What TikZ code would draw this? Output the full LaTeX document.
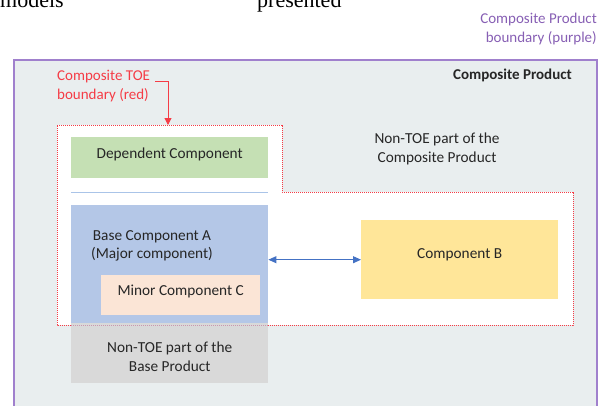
\documentclass[tikz,border=0pt]{standalone}
\usepackage{fontspec}
\setmainfont{Carlito}
\newfontfamily\serifx{Liberation Serif}
\usetikzlibrary{arrows.meta}
\definecolor{bgc}{RGB}{233,238,239}
\definecolor{purp}{RGB}{160,128,205}
\definecolor{purptxt}{RGB}{135,95,180}
\definecolor{redb}{RGB}{245,60,70}
\definecolor{greenf}{RGB}{197,224,180}
\definecolor{bluef}{RGB}{180,199,231}
\definecolor{peachf}{RGB}{251,229,214}
\definecolor{grayf}{RGB}{217,217,217}
\definecolor{yellowf}{RGB}{255,230,153}
\definecolor{arrowb}{RGB}{68,114,196}
\definecolor{linec}{RGB}{170,196,232}
\definecolor{txt}{RGB}{38,38,38}
\tikzset{
  boxn/.style={draw=none, inner sep=0pt, anchor=north west},
  lbl/.style={inner sep=0pt, text=txt, align=center, font=\fontsize{15.3}{18.5}\selectfont},
  redline/.style={redb, line width=1pt, dash pattern=on 1.4pt off 0.6pt},
}
\begin{document}
\begin{tikzpicture}[x=1pt,y=-1pt]
\useasboundingbox (0,0) rectangle (600,405);
\clip (0,0) rectangle (600,405);
% cut-off text at top
\node[inner sep=0pt, anchor=base west, font=\serifx\fontsize{22}{24}\selectfont] (m1) at (0,7) {models};
\node[inner sep=0pt, anchor=base west, font=\serifx\fontsize{22}{24}\selectfont] (m2) at (257,7) {presented};
% purple label
\node[inner sep=0pt, anchor=base east, align=right, text=purptxt, font=\fontsize{15}{19}\selectfont] (plbl) at (597,42) {Composite Product\\boundary (purple)};
% composite product box
\draw[purp, line width=1.8pt, fill=bgc] (14,60) rectangle (597,430);
\node[inner sep=0pt, anchor=east, text=txt, font=\bfseries\fontsize{15}{18}\selectfont] (cp) at (572,75) {Composite Product};
% red TOE boundary
\draw[redline, fill=white]
  (57,125) -- (282,125) -- (282,192) -- (573,192) -- (573,325) -- (57,325) -- cycle;
\node[inner sep=0pt, anchor=base west, align=left, text=redb, font=\fontsize{15}{19}\selectfont] (toe) at (57,99) {Composite TOE\\boundary (red)};
\coordinate (t1) at (155,81);
\coordinate (t2) at (168,125);
\draw[redb, line width=1pt, -{Triangle[length=7pt,width=7pt]}] (t1) -| (t2);
% non-TOE composite text
\node[lbl] (ntc) at (437,149) {Non-TOE part of the\\Composite Product};
% dependent component
\node[boxn, fill=greenf, minimum width=197pt, minimum height=41pt] (dep) at (71,137) {};
\node[lbl] (dept) at ([yshift=3pt]dep.center) {Dependent Component};
\coordinate (l1) at (71,192);
\coordinate (l2) at (268,192);
\draw[linec, line width=1pt] (l1) -- (l2);
% base component A
\node[boxn, fill=bluef, minimum width=197pt, minimum height=118pt] (baseA) at (71,205) {};
\node[lbl] (baseAt) at (152,246) {Base Component A\\(Major component)};
% minor component C
\node[boxn, fill=peachf, minimum width=159pt, minimum height=40pt] (minC) at (101,275) {};
\node[lbl] (minCt) at ([yshift=3.5pt]minC.center) {Minor Component C};
% non-TOE base product
\node[boxn, fill=grayf, minimum width=197pt, minimum height=60pt] (ntb) at (71,323) {};
\node[lbl] (ntbt) at ([yshift=-3.5pt]ntb.center) {Non-TOE part of the\\Base Product};
% red boundary bottom over blue box (faint)
\coordinate (r1) at (71,325);
\coordinate (r2) at (268,325);
\draw[redline, draw=redb!35!bluef] (r1) -- (r2);
% component B
\node[boxn, fill=yellowf, minimum width=197pt, minimum height=79pt] (compB) at (361,220) {};
\node[lbl] (compBt) at ([yshift=5pt]compB.center) {Component B};
% arrow
\draw[arrowb, line width=1pt, {Triangle[length=8pt,width=7pt]}-{Triangle[length=8pt,width=7pt]}]
  (compB.west -| baseA.east) -- (compB.west);
\end{tikzpicture}
\end{document}
